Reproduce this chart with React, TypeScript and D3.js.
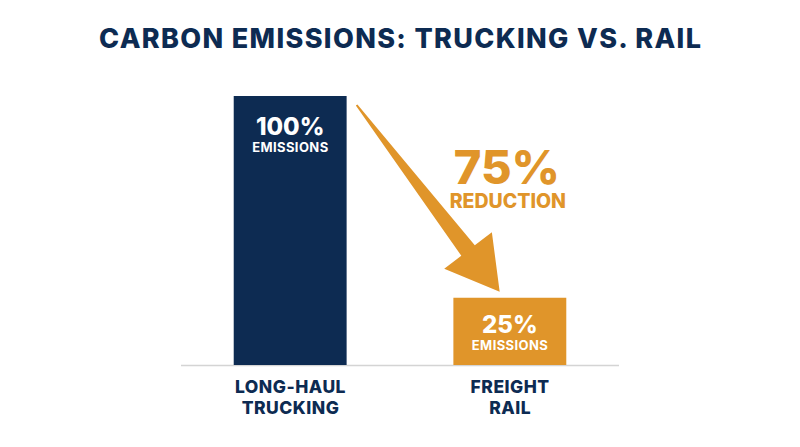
import React from "react";
import * as d3 from "d3";

const categories = ["LONG-HAUL\nTRUCKING", "FREIGHT\nRAIL"];
const values = [100, 25];
const barLabels = ["EMISSIONS", "EMISSIONS"];
const title = "CARBON EMISSIONS: TRUCKING VS. RAIL";
const reductionValue = 75;
const reductionLabel = "REDUCTION";

const W = 800;
const H = 447;
const NAVY = "#0d2b52";
const ORANGE = "#e0952a";
const FONT = "Inter, 'Open Sans', sans-serif";

export default function App() {
  const x = d3
    .scaleBand<string>()
    .domain(categories)
    .range([181, 619])
    .paddingInner(0.486)
    .paddingOuter(0.24);
  const y = d3.scaleLinear().domain([0, 100]).range([365, 96]);
  const bw = x.bandwidth();
  const colors = [NAVY, ORANGE];

  // arrow from top-right of first bar to top of second bar
  const sx = (x(categories[0]) as number) + bw + 10;
  const sy = y(values[0]) + 9;
  const tx = (x(categories[1]) as number) + bw * 0.41;
  const ty = y(values[1]) - 6;
  const dx = tx - sx;
  const dy = ty - sy;
  const L = Math.hypot(dx, dy);
  const ux = dx / L;
  const uy = dy / L;
  const nx = -uy;
  const ny = ux;
  const hb = L - 52;
  const pts: [number, number][] = [
    [0, 1],
    [hb, 8.5],
    [hb, 30],
    [L, 0],
    [hb, -30],
    [hb, -8.5],
    [0, -1],
  ];
  const poly = pts
    .map(([a, p]) => `${sx + ux * a + nx * p},${sy + uy * a + ny * p}`)
    .join(" ");

  const c2 = (x(categories[1]) as number) + bw / 2;

  return (
    <svg width={W} height={H} style={{ display: "block", position: "absolute", left: 0, top: 0 }}>
      <rect width={W} height={H} fill="#ffffff" />
      <text
        x={400.7}
        y={47.5}
        textAnchor="middle"
        fontFamily={FONT}
        fontWeight={800}
        fontSize={27}
        letterSpacing={1.35}
        fill={NAVY}
      >
        {title}
      </text>
      <line x1={181} x2={619} y1={365.5} y2={365.5} stroke="#d4d4d4" strokeWidth={1.5} />
      {categories.map((c, i) => {
        const bx = x(c) as number;
        const cx = bx + bw / 2;
        const top = y(values[i]);
        const lines = c.split("\n");
        return (
          <g key={c}>
            <rect x={bx} y={top} width={bw} height={y(0) - top} fill={colors[i]} />
            <text
              textAnchor="middle"
              fontFamily={FONT}
              fill="#ffffff"
            >
              <tspan x={cx} y={i === 0 ? top + 39 : top + 35.5} fontWeight={800} fontSize={24}>
                {values[i]}%
              </tspan>
              <tspan
                x={cx + 0.2}
                y={i === 0 ? top + 55.5 : top + 52}
                fontWeight={700}
                fontSize={13}
                letterSpacing={0.4}
              >
                {barLabels[i]}
              </tspan>
            </text>
            <text
              textAnchor="middle"
              fontFamily={FONT}
              fontWeight={800}
              fontSize={17.5}
              letterSpacing={0.5}
              fill={NAVY}
            >
              {lines.map((l, j) => (
                <tspan key={l} x={cx + 0.3} y={393.3 + j * 21}>
                  {l}
                </tspan>
              ))}
            </text>
          </g>
        );
      })}
      <polygon points={poly} fill={ORANGE} />
      <text textAnchor="middle" fontFamily={FONT} fontWeight={800} fill={ORANGE}>
        <tspan x={c2 - 3} y={184} fontSize={47}>
          {reductionValue}%
        </tspan>
        <tspan x={c2 - 2} y={207.7} fontSize={19.5}>
          {reductionLabel}
        </tspan>
      </text>
    </svg>
  );
}
